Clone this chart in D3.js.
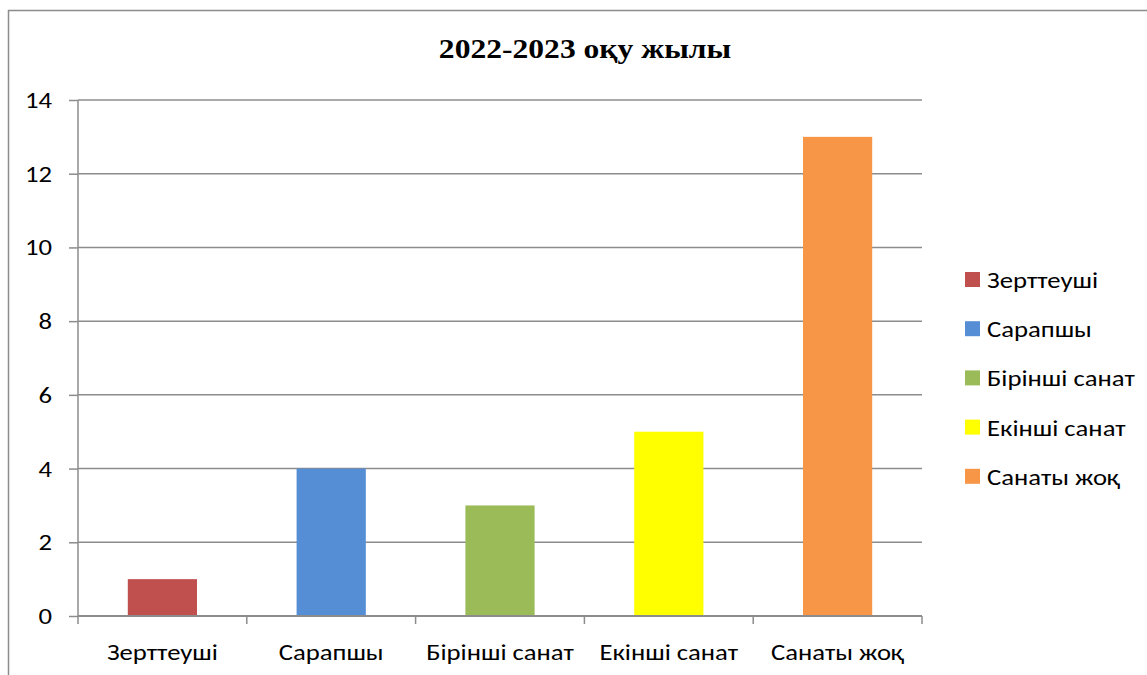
<!DOCTYPE html>
<html><head><meta charset="utf-8">
<script src="https://cdn.jsdelivr.net/npm/d3@7"></script>
<style>body{margin:0;background:#fff}svg{display:block}</style>
</head><body>
<script>
const categories = ["Зерттеуші","Сарапшы","Бірінші санат","Екінші санат","Санаты жоқ"];
const values = [1,4,3,5,13];
const colors = ["#C0504D","#558ED5","#9BBB59","#FFFF00","#F79646"];
const yTicks = [0,2,4,6,8,10,12,14];
const title = "2022-2023 оқу жылы";

const W=1147,H=675;
const svg=d3.select("body").append("svg").attr("width",W).attr("height",H);
svg.append("rect").attr("x",8.5).attr("y",10.5).attr("width",1200).attr("height",800)
  .attr("fill","none").attr("stroke","#8c8c8c").attr("stroke-width",1.5);

const L=78,R=922,T=100,B=616;
const x=d3.scaleBand().domain(categories).range([L,R]).paddingInner(0.59).paddingOuter(0.295);
const y=d3.scaleLinear().domain([0,14]).range([B,T]);
const font="Carlito, Calibri, 'Liberation Sans', Arial, sans-serif";
const SX=1.16, FS=23;

svg.append("text").attr("transform","translate(585,58) scale(1.17,1)").attr("text-anchor","middle")
  .attr("font-family","'Liberation Serif','Times New Roman',serif").attr("font-weight","bold")
  .attr("font-size",27).text(title);

// gridlines
svg.append("g").selectAll("line").data(yTicks.filter(d=>d>0)).join("line")
  .attr("x1",L).attr("x2",R).attr("y1",d=>y(d)).attr("y2",d=>y(d))
  .attr("stroke","#8c8c8c").attr("stroke-width",1.5);

// y axis
const ya=svg.append("g").attr("transform",`translate(${L},0)`)
  .call(d3.axisLeft(y).tickValues(yTicks).tickSize(9).tickFormat(""));
ya.select(".domain").attr("stroke","#8c8c8c").attr("stroke-width",1.5).attr("d",`M0,${T}V${B}`);
ya.selectAll(".tick line").attr("stroke","#8c8c8c").attr("stroke-width",1.5);
svg.append("g").selectAll("text").data(yTicks).join("text")
  .attr("transform",d=>`translate(52,${y(d)+8}) scale(${SX},1)`).attr("text-anchor","end")
  .attr("font-family",font).attr("font-size",FS).text(d=>d);

// bars
svg.append("g").selectAll("rect").data(values).join("rect")
  .attr("x",(d,i)=>x(categories[i])).attr("width",x.bandwidth())
  .attr("y",d=>y(d)).attr("height",d=>B-y(d)).attr("fill",(d,i)=>colors[i]);

// x axis
const step=(R-L)/categories.length;
const xa=svg.append("g").attr("transform",`translate(0,${B})`);
xa.append("line").attr("x1",L).attr("x2",R).attr("stroke","#8c8c8c").attr("stroke-width",2);
xa.selectAll(".tk").data(d3.range(categories.length+1)).join("line")
  .attr("x1",i=>L+i*step).attr("x2",i=>L+i*step).attr("y1",0).attr("y2",8)
  .attr("stroke","#8c8c8c").attr("stroke-width",1.5);
xa.selectAll("text").data(categories).join("text")
  .attr("transform",d=>`translate(${x(d)+x.bandwidth()/2},44) scale(${SX},1)`).attr("text-anchor","middle")
  .attr("font-family",font).attr("font-size",FS).text(d=>d);

// legend
const lg=svg.append("g").attr("transform","translate(965,0)");
const rows=lg.selectAll("g").data(categories).join("g")
  .attr("transform",(d,i)=>`translate(0,${279+i*49.2})`);
rows.append("rect").attr("x",0).attr("y",-7).attr("width",15).attr("height",15).attr("fill",(d,i)=>colors[i]);
rows.append("text").attr("transform",`translate(22,9) scale(${SX},1)`).attr("font-family",font).attr("font-size",FS).text(d=>d);
</script>
</body></html>
